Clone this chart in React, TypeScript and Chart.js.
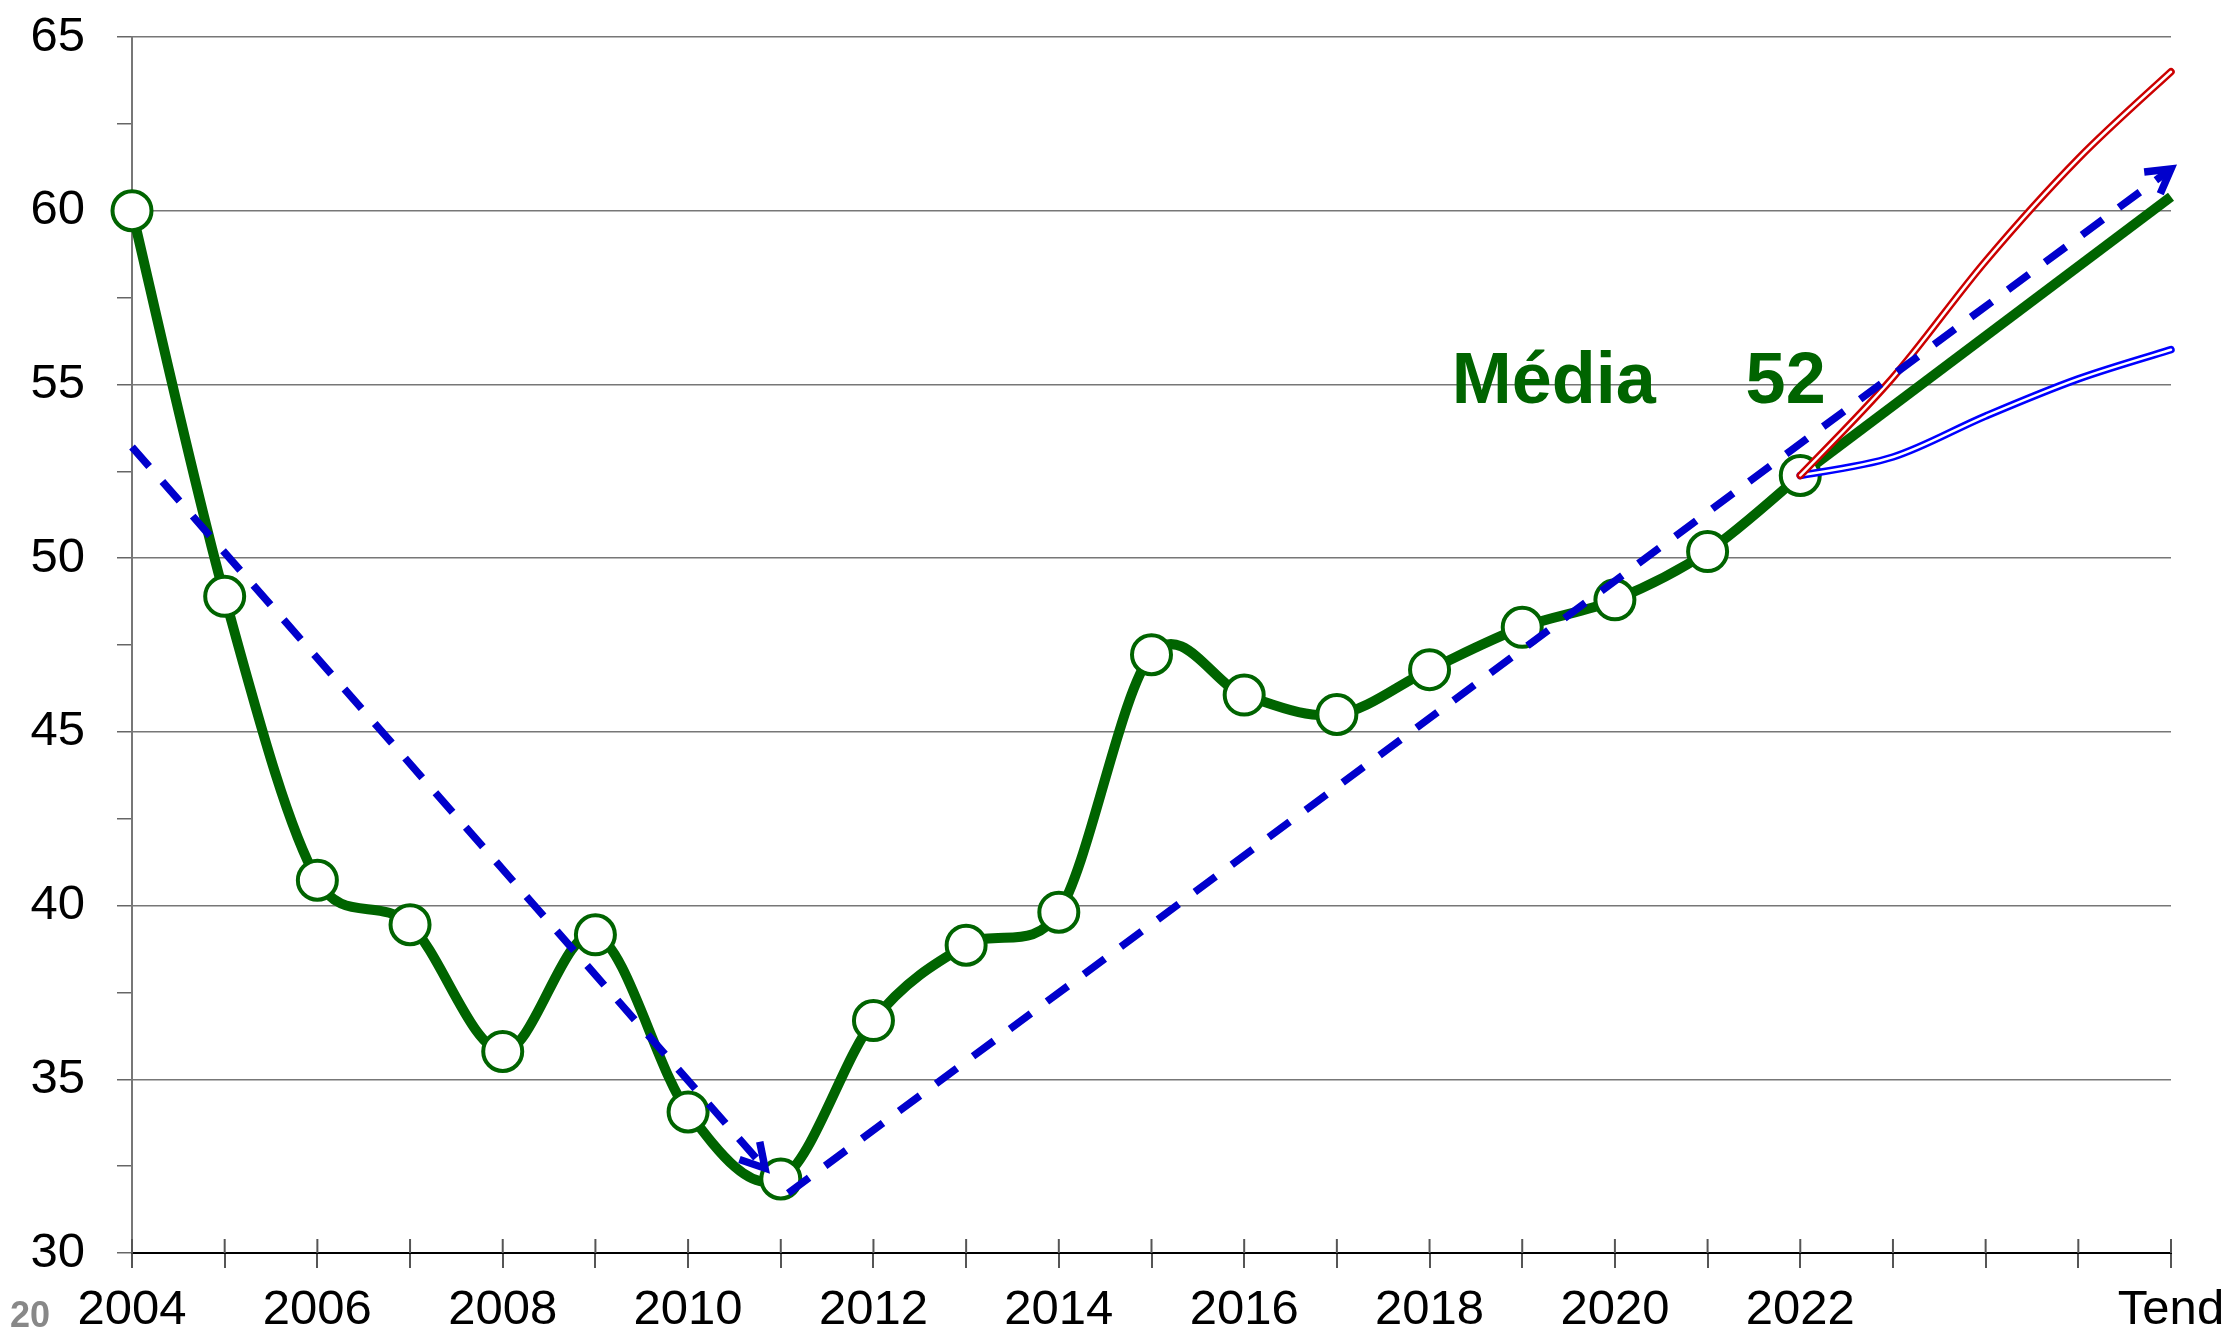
import React, { useEffect, useRef } from "react";
import { Chart, registerables } from "chart.js";

Chart.register(...registerables);

// ---- data ----
const years = [
  "2004", "2005", "2006", "2007", "2008", "2009", "2010", "2011", "2012", "2013",
  "2014", "2015", "2016", "2017", "2018", "2019", "2020", "2021", "2022",
];
const values = [
  60.0, 48.9, 40.73, 39.45, 35.8, 39.16, 34.06, 32.13, 36.69, 38.86,
  39.81, 47.22, 46.06, 45.5, 46.79, 48.01, 48.8, 50.19, 52.38,
];
const xTickLabels = [
  "2004", "", "2006", "", "2008", "", "2010", "", "2012", "", "2014", "",
  "2016", "", "2018", "", "2020", "", "2022", "", "", "", "Tend",
];
// projections from 2022 (index 18) to "Tend" (index 22)
const projX = [18, 19, 20, 21, 22];
const highScenario = [52.38, 55.2, 58.55, 61.5, 64.0];
const lowScenario = [52.38, 52.91, 54.09, 55.16, 56.0];
const midTrendX = [18, 22];
const midTrend = [52.38, 60.4];
// dashed trend arrows
const downTrendX = [0, 6.83];
const downTrend = [53.2, 32.44];
const upTrendX = [7.08, 22];
const upTrend = [31.72, 61.2];
// texts
const avgLabel = "Média";
const avgValue = "52";
const slideNumber = "20";

const GREEN = "#006400";
const DASH_BLUE = "#0000CC";
const BLUE = "#0000FF";
const RED = "#CC0000";
const FONT = "'Liberation Sans', Arial, sans-serif";

const pts = (xs: number[], ys: number[]) => xs.map((x, i) => ({ x, y: ys[i] }));

// Excel-like smoothed path through the dataset's points (pixel positions from the scales)
function smoothPath(ctx: CanvasRenderingContext2D, p: { x: number; y: number }[]) {
  const dist = (a: any, b: any) => Math.hypot(b.x - a.x, b.y - a.y);
  ctx.beginPath();
  ctx.moveTo(p[0].x, p[0].y);
  for (let i = 0; i < p.length - 1; i++) {
    const p0 = p[i - 1] || p[i];
    const p1 = p[i];
    const p2 = p[i + 1];
    const p3 = p[i + 2] || p[i + 1];
    const d12 = dist(p1, p2);
    const d02 = dist(p0, p2);
    const d13 = dist(p1, p3);
    const f1 = d02 / 6 > d12 / 2 ? d12 / 2 / d02 : 1 / 6;
    const f2 = d13 / 6 > d12 / 2 ? d12 / 2 / d13 : 1 / 6;
    const c1x = p1.x + (p2.x - p0.x) * f1;
    const c1y = p1.y + (p2.y - p0.y) * f1;
    const c2x = p2.x - (p3.x - p1.x) * f2;
    const c2y = p2.y - (p3.y - p1.y) * f2;
    ctx.bezierCurveTo(c1x, c1y, c2x, c2y, p2.x, p2.y);
  }
}

const overlayPlugin = {
  id: "overlay",
  beforeDatasetsDraw(chart: any) {
    const { ctx, scales } = chart;
    const xs = scales.x;
    const ys = scales.y;
    ctx.save();
    ctx.strokeStyle = "#555";
    ctx.lineWidth = 2;
    const yb = ys.getPixelForValue(30);
    xTickLabels.forEach((_, i) => {
      const px = xs.getPixelForValue(i);
      ctx.beginPath();
      ctx.moveTo(px, yb);
      ctx.lineTo(px, yb - 14);
      ctx.stroke();
    });
    ctx.restore();
  },
  beforeDatasetDraw(chart: any, args: any) {
    const ds = chart.data.datasets[args.index];
    if (!ds.smoothStroke) return;
    const meta = chart.getDatasetMeta(args.index);
    const p = meta.data.map((el: any) => ({ x: el.x, y: el.y }));
    const { ctx } = chart;
    ctx.save();
    ctx.lineJoin = "round";
    ctx.lineCap = "round";
    for (const s of ds.smoothStroke) {
      ctx.strokeStyle = s.color;
      ctx.lineWidth = s.width;
      smoothPath(ctx, p);
      ctx.stroke();
    }
    ctx.restore();
  },
  afterDatasetsDraw(chart: any) {
    const { ctx, scales } = chart;
    const xs = scales.x;
    const ys = scales.y;
    const arrow = (xArr: number[], yArr: number[]) => {
      const sx = xs.getPixelForValue(xArr[0]);
      const sy = ys.getPixelForValue(yArr[0]);
      const tx = xs.getPixelForValue(xArr[1]);
      const ty = ys.getPixelForValue(yArr[1]);
      const a = Math.atan2(ty - sy, tx - sx);
      const len = 27;
      const spread = (150 * Math.PI) / 180;
      ctx.save();
      ctx.strokeStyle = DASH_BLUE;
      ctx.lineWidth = 7.5;
      ctx.lineJoin = "miter";
      ctx.lineCap = "butt";
      ctx.beginPath();
      ctx.moveTo(tx + len * Math.cos(a + spread), ty + len * Math.sin(a + spread));
      ctx.lineTo(tx, ty);
      ctx.lineTo(tx + len * Math.cos(a - spread), ty + len * Math.sin(a - spread));
      ctx.stroke();
      ctx.restore();
    };
    arrow(downTrendX, downTrend);
    arrow(upTrendX, upTrend);
  },
  afterDraw(chart: any) {
    const { ctx, scales } = chart;
    const xs = scales.x;
    const ys = scales.y;
    ctx.save();
    ctx.fillStyle = GREEN;
    ctx.font = `bold 72px ${FONT}`;
    ctx.textBaseline = "alphabetic";
    ctx.textAlign = "left";
    const by = ys.getPixelForValue(54.46);
    ctx.fillText(avgLabel, xs.getPixelForValue(14.24), by);
    ctx.fillText(avgValue, xs.getPixelForValue(17.41), by);
    ctx.fillStyle = "#888888";
    ctx.font = `bold 36px ${FONT}`;
    ctx.fillText(slideNumber, 10, 1327);
    ctx.restore();
  },
};

export default function App() {
  const canvasRef = useRef<HTMLCanvasElement | null>(null);

  useEffect(() => {
    const canvas = canvasRef.current;
    if (!canvas) return;
    Chart.defaults.font.family = FONT;
    const chart = new Chart(canvas, {
      type: "line",
      data: {
        datasets: [
          {
            label: "Tendência queda",
            data: pts(downTrendX, downTrend),
            borderColor: DASH_BLUE,
            borderWidth: 7.5,
            borderDash: [26, 20],
            borderCapStyle: "butt",
            pointRadius: 0,
            tension: 0,
            clip: false,
            order: 0,
          },
          {
            label: "Tendência alta",
            data: pts(upTrendX, upTrend),
            borderColor: DASH_BLUE,
            borderWidth: 7.5,
            borderDash: [26, 20],
            borderCapStyle: "butt",
            pointRadius: 0,
            tension: 0,
            clip: false,
            order: 0,
          },
          {
            label: "Alta",
            data: pts(projX, highScenario),
            showLine: false,
            smoothStroke: [
              { color: RED, width: 7.5 },
              { color: "#FFFFFF", width: 2.5 },
            ],
            pointRadius: 0,
            clip: false,
            order: 1,
          },
          {
            label: "Baixa",
            data: pts(projX, lowScenario),
            showLine: false,
            smoothStroke: [
              { color: BLUE, width: 7.5 },
              { color: "#FFFFFF", width: 2.5 },
            ],
            pointRadius: 0,
            clip: false,
            order: 1,
          },
          {
            label: "Série",
            data: values.map((v, i) => ({ x: i, y: v })),
            showLine: false,
            smoothStroke: [{ color: GREEN, width: 10 }],
            borderColor: GREEN,
            pointRadius: 19.5,
            pointBorderWidth: 4,
            pointBackgroundColor: "#FFFFFF",
            pointBorderColor: GREEN,
            clip: false,
            order: 3,
          },
          {
            label: "Média",
            data: pts(midTrendX, midTrend),
            borderColor: GREEN,
            borderWidth: 10,
            pointRadius: 0,
            tension: 0,
            clip: false,
            order: 4,
          },
        ],
      },
      options: {
        responsive: false,
        animation: false,
        devicePixelRatio: 1,
        layout: { padding: { left: 0, right: 63, top: 37, bottom: 0 } },
        plugins: {
          legend: { display: false },
          tooltip: { enabled: false },
          title: { display: false },
        },
        scales: {
          x: {
            type: "linear",
            min: 0,
            max: 22,
            afterFit: (s: any) => {
              s.height = 83;
              s.paddingLeft = 0;
              s.paddingRight = 0;
            },
            ticks: {
              stepSize: 1,
              autoSkip: false,
              maxRotation: 0,
              minRotation: 0,
              padding: 13,
              color: "#000",
              font: { size: 49, family: FONT },
              callback: (v: any) => xTickLabels[Math.round(Number(v))] ?? "",
            },
            grid: {
              drawOnChartArea: false,
              drawTicks: true,
              tickLength: 15,
              tickColor: "#555",
              lineWidth: 2,
            },
            border: { display: true, color: "#000", width: 2 },
          },
          y: {
            type: "linear",
            min: 30,
            max: 65,
            afterFit: (s: any) => {
              s.width = 132;
              s.paddingTop = 0;
              s.paddingBottom = 0;
            },
            ticks: {
              stepSize: 2.5,
              padding: 32,
              color: "#000",
              font: { size: 49, family: FONT },
              callback: (v: any) => (Number(v) % 5 === 0 ? String(v) : ""),
            },
            grid: {
              color: (c: any) =>
                c.tick && c.tick.value % 5 === 0 ? "#777" : "rgba(0,0,0,0)",
              tickColor: "#666",
              lineWidth: 1.5,
              tickLength: 15,
              drawTicks: true,
            },
            border: { display: true, color: "#777", width: 2 },
          },
        },
      },
      plugins: [overlayPlugin],
    } as any);
    return () => chart.destroy();
  }, []);

  return (
    <div
      style={{
        position: "fixed",
        left: 0,
        top: 0,
        width: 2234,
        height: 1336,
        background: "#fff",
      }}
    >
      <canvas
        ref={canvasRef}
        width={2234}
        height={1336}
        style={{ width: 2234, height: 1336, display: "block" }}
      />
    </div>
  );
}
